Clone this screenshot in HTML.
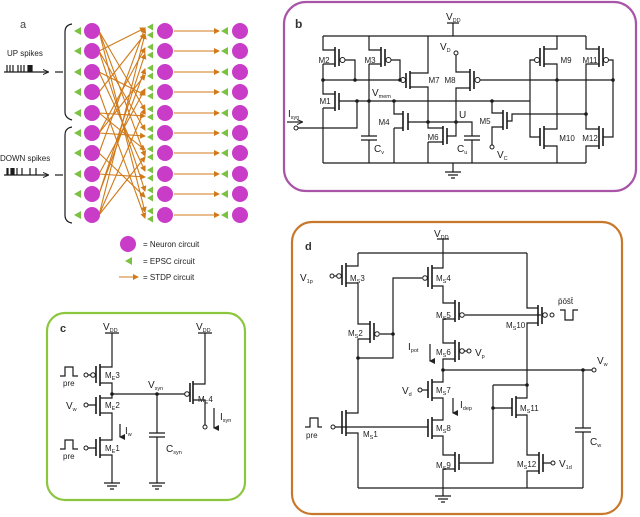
<!DOCTYPE html>
<html><head><meta charset="utf-8"><style>
html,body{margin:0;padding:0;background:#fff;}
svg{display:block;font-family:"Liberation Sans",sans-serif;}
.w{fill:none;stroke:#1a1a1a;stroke-width:1.2;}
.g{fill:none;stroke:#1a1a1a;stroke-width:1.6;}
.t{font-size:8px;fill:#222;}
.s{font-size:5.5px;}
.o{stroke:#d07a1a;stroke-width:1.1;fill:none;}
</style></head><body>
<svg width="640" height="517" viewBox="0 0 640 517" xmlns="http://www.w3.org/2000/svg">
<defs>
<marker id="ah" markerWidth="6" markerHeight="6" refX="5" refY="3" orient="auto" markerUnits="userSpaceOnUse"><path d="M0,0 L6,3 L0,6 z" fill="#d07a1a"/></marker>
<marker id="bh" markerWidth="6" markerHeight="6" refX="5" refY="3" orient="auto" markerUnits="userSpaceOnUse"><path d="M0,0.5 L6,3 L0,5.5" fill="none" stroke="#222" stroke-width="1"/></marker>
<marker id="kh" markerWidth="6" markerHeight="6" refX="3" refY="5" orient="auto" markerUnits="userSpaceOnUse"><path d="M0,0 L3,6 L6,0 z" fill="#222"/></marker>
</defs>

<!-- PANEL A -->
<text x="20" y="28" style="font-size:11px;fill:#444">a</text>
<text x="7" y="56" class="t">UP spikes</text>
<path class="w" d="M4,72 H48" marker-end="url(#bh)"/>
<path class="w" d="M7,65V72M10,65V72M13,65V72M18,65V72M21,65V72M24,65V72M28,65V72M29,65V72M30,65V72M31,65V72M32,65V72"/>
<path class="w" d="M55,72H63"/>
<path class="w" d="M72,24 Q65,25 65,32 V112 Q65,118 72,120"/>
<text x="0" y="161" class="t">DOWN spikes</text>
<path class="w" d="M4,175 H48" marker-end="url(#bh)"/>
<path class="w" d="M7,168V175M8,168V175M11,168V175M12,168V175M13,168V175M14,168V175M17,168V175M22,168V175M30,168V175M36,168V175"/>
<path class="w" d="M55,175H63"/>
<path class="w" d="M72,127 Q65,128 65,135 V215 Q65,222 72,223"/>

<g class="o" marker-end="url(#ah)">
<path d="M99,31L145,110"/><path d="M99,31L145,156"/><path d="M99,31L145,212"/>
<path d="M99,51L145,28"/><path d="M99,51L145,130"/><path d="M99,51L145,191"/>
<path d="M99,72L145,95"/><path d="M99,72L145,171"/>
<path d="M99,92L145,34"/><path d="M99,92L145,218"/>
<path d="M99,113L145,116"/><path d="M99,113L145,150"/>
<path d="M99,133L145,48"/><path d="M99,133L145,136"/><path d="M99,133L145,75"/>
<path d="M99,153L145,28"/><path d="M99,153L145,197"/>
<path d="M99,174L145,89"/><path d="M99,174L145,177"/>
<path d="M99,194L145,54"/><path d="M99,194L145,69"/>
<path d="M99,215L145,34"/><path d="M99,215L145,109"/><path d="M99,215L145,157"/>
<path d="M174,31H219"/><path d="M174,51H219"/><path d="M174,72H219"/><path d="M174,92H219"/><path d="M174,113H219"/><path d="M174,133H219"/><path d="M174,153H219"/><path d="M174,174H219"/><path d="M174,194H219"/><path d="M174,215H219"/>
</g>
<g fill="#c83cc8">
<circle cx="92" cy="31" r="8"/><circle cx="92" cy="51" r="8"/><circle cx="92" cy="72" r="8"/><circle cx="92" cy="92" r="8"/><circle cx="92" cy="113" r="8"/><circle cx="92" cy="133" r="8"/><circle cx="92" cy="153" r="8"/><circle cx="92" cy="174" r="8"/><circle cx="92" cy="194" r="8"/><circle cx="92" cy="215" r="8"/>
<circle cx="165" cy="31" r="8"/><circle cx="165" cy="51" r="8"/><circle cx="165" cy="72" r="8"/><circle cx="165" cy="92" r="8"/><circle cx="165" cy="113" r="8"/><circle cx="165" cy="133" r="8"/><circle cx="165" cy="153" r="8"/><circle cx="165" cy="174" r="8"/><circle cx="165" cy="194" r="8"/><circle cx="165" cy="215" r="8"/>
<circle cx="240" cy="31" r="8"/><circle cx="240" cy="51" r="8"/><circle cx="240" cy="72" r="8"/><circle cx="240" cy="92" r="8"/><circle cx="240" cy="113" r="8"/><circle cx="240" cy="133" r="8"/><circle cx="240" cy="153" r="8"/><circle cx="240" cy="174" r="8"/><circle cx="240" cy="194" r="8"/><circle cx="240" cy="215" r="8"/>
<circle cx="128" cy="244" r="8"/>
</g>
<g fill="#7cc242">
<path d="M74,31l7,-4v8z M74,51l7,-4v8z M74,72l7,-4v8z M74,92l7,-4v8z M74,113l7,-4v8z M74,133l7,-4v8z M74,153l7,-4v8z M74,174l7,-4v8z M74,194l7,-4v8z M74,215l7,-4v8z"/>
<path d="M221,31l7,-4v8z M221,51l7,-4v8z M221,72l7,-4v8z M221,92l7,-4v8z M221,113l7,-4v8z M221,133l7,-4v8z M221,153l7,-4v8z M221,174l7,-4v8z M221,194l7,-4v8z M221,215l7,-4v8z"/>
<path d="M147,27l6,-3.5v7z M147,35l6,-3.5v7z M147,47l6,-3.5v7z M147,55l6,-3.5v7z M147,68l6,-3.5v7z M147,76l6,-3.5v7z M147,88l6,-3.5v7z M147,96l6,-3.5v7z M147,109l6,-3.5v7z M147,117l6,-3.5v7z M147,129l6,-3.5v7z M147,137l6,-3.5v7z M147,149l6,-3.5v7z M147,157l6,-3.5v7z M147,170l6,-3.5v7z M147,178l6,-3.5v7z M147,190l6,-3.5v7z M147,198l6,-3.5v7z M147,211l6,-3.5v7z M147,219l6,-3.5v7z"/>
<path d="M125,261l7,-4v8z"/>
</g>
<path class="o" marker-end="url(#ah)" d="M119,277H138"/>
<text x="143" y="247" class="t">=  Neuron circuit</text>
<text x="143" y="264" class="t">=  EPSC circuit</text>
<text x="143" y="280" class="t">=  STDP circuit</text>

<!-- PANEL B -->
<rect x="284" y="2" width="352" height="189" rx="22" fill="none" stroke="#a855a8" stroke-width="2.2"/>
<text x="295" y="28" style="font-size:12px;font-weight:bold;fill:#333">b</text>
<text x="446" y="20" class="t" style="font-size:10px">V<tspan class="s" dy="2">DD</tspan></text>
<path class="w" d="M447,23H459M453,23V36M323,36H586M323,163H586M453,163V172"/>
<path class="w" d="M445,172H461M448,175H458M451,178H455"/>
<path class="w" d="M323,36V50H335M323,64H335M323,64V94H335M323,108H335M323,108V163"/>
<path class="g" d="M335,47V67M339,49V66M335,91V111M339,93V110"/>
<circle cx="342.5" cy="60" r="2.5" fill="#fff" stroke="#1a1a1a"/>
<path class="w" d="M345,60H355V80M323,80H401M339,101H530"/>
<path class="w" d="M369,36V50H381M369,64H381M369,64V136M369,140V163M361,136H377M361,140H377"/>
<path class="g" d="M381,47V67M385,49V66"/>
<circle cx="388.5" cy="60" r="2.5" fill="#fff" stroke="#1a1a1a"/>
<path class="w" d="M391,60H400V80"/>
<text x="288" y="117" class="t" style="font-size:10px">I<tspan class="s" dy="2">syn</tspan></text>
<path class="w" d="M287,122H302" marker-end="url(#bh)"/>
<circle cx="296" cy="128" r="2" fill="#fff" stroke="#1a1a1a"/>
<path class="w" d="M298,128H357V101"/>
<text x="372" y="96" class="t" style="font-size:10px">V<tspan class="s" dy="2">mem</tspan></text>
<text x="374" y="152" class="t" style="font-size:10px">C<tspan class="s" dy="2">v</tspan></text>
<path class="w" d="M394,101V114H403M394,128H403M394,128V163M408,122H456"/>
<path class="g" d="M403,111V131M408,113V130"/>
<path class="w" d="M428,36V73H410M410,87H428V128H443M428,142H443M428,142V163"/>
<path class="g" d="M410,71V89M406,73V88M443,126V145M447,128V144"/>
<circle cx="403" cy="80" r="2.5" fill="#fff" stroke="#1a1a1a"/>
<text x="440" y="50" class="t" style="font-size:10px">V<tspan class="s" dy="2">D</tspan></text>
<circle cx="456" cy="53" r="2" fill="#fff" stroke="#1a1a1a"/>
<path class="w" d="M456,55V72H470M470,88H456V136H447"/>
<path class="g" d="M470,69V91M474,71V89"/>
<circle cx="477.5" cy="80" r="2.5" fill="#fff" stroke="#1a1a1a"/>
<path class="w" d="M480,80H613V137H603"/>
<text x="459" y="118" class="t" style="font-size:10px">U</text>
<path class="w" d="M456,122H472V136M472,140V163M464,136H480M464,140H480"/>
<text x="457" y="152" class="t" style="font-size:10px">C<tspan class="s" dy="2">u</tspan></text>
<path class="w" d="M492,101V113H503M503,127H492V145M507,121H512V114H586"/>
<path class="g" d="M503,110V130M507,112V129"/>
<circle cx="492" cy="147" r="2" fill="#fff" stroke="#1a1a1a"/>
<text x="497" y="158" class="t" style="font-size:10px">V<tspan class="s" dy="2">C</tspan></text>
<path class="w" d="M557,36V49H544M544,64H557V129H544M544,146H557V163M534,60H530V137H540"/>
<path class="g" d="M544,46V67M540,48V66M544,126V149M540,128V146"/>
<circle cx="537" cy="60" r="2.5" fill="#fff" stroke="#1a1a1a"/>
<path class="w" d="M586,36V49H599M599,64H586V129H599M599,146H586V163M609,60H613V80"/>
<path class="g" d="M599,46V67M603,48V66M599,126V149M603,128V146"/>
<circle cx="606" cy="60" r="2.5" fill="#fff" stroke="#1a1a1a"/>
<g fill="#1a1a1a">
<circle cx="323" cy="80" r="1.8"/><circle cx="355" cy="80" r="1.8"/><circle cx="400" cy="80" r="1.8"/>
<circle cx="357" cy="101" r="1.8"/><circle cx="369" cy="101" r="1.8"/><circle cx="394" cy="101" r="1.8"/><circle cx="492" cy="101" r="1.8"/>
<circle cx="428" cy="122" r="1.8"/><circle cx="456" cy="122" r="1.8"/><circle cx="557" cy="80" r="1.8"/><circle cx="613" cy="80" r="1.8"/><circle cx="586" cy="114" r="1.8"/>
</g>
<g class="t" text-anchor="middle">
<text x="324" y="63">M2</text><text x="370" y="63">M3</text><text x="325" y="104">M1</text>
<text x="434" y="83">M7</text><text x="450" y="83">M8</text><text x="384" y="125">M4</text>
<text x="433" y="140">M6</text><text x="485" y="124">M5</text>
<text x="566" y="63">M9</text><text x="567" y="141">M10</text><text x="590" y="63">M11</text><text x="590" y="141">M12</text>
</g>

<!-- PANEL C -->
<rect x="47" y="313" width="198" height="187" rx="18" fill="none" stroke="#8cc63f" stroke-width="2.2"/>
<text x="60" y="332" style="font-size:11px;font-weight:bold;fill:#333">c</text>
<text x="103" y="330" class="t" style="font-size:10px">V<tspan class="s" dy="2">DD</tspan></text>
<text x="196" y="330" class="t" style="font-size:10px">V<tspan class="s" dy="2">DD</tspan></text>
<path class="w" d="M105,333H119M112,333V367H100M100,383H112V398H100M100,413H112V440H100M100,455H112V483"/>
<path class="g" d="M100,364V386M96,366V383M100,395V416M96,397V414M100,437V458M96,439V456"/>
<circle cx="93" cy="375" r="2.3" fill="#fff" stroke="#1a1a1a"/>
<circle cx="86" cy="375" r="2" fill="#fff" stroke="#1a1a1a"/>
<path class="w" d="M88,375H90.5M88,405H96M88,448H96"/>
<circle cx="86" cy="405" r="2" fill="#fff" stroke="#1a1a1a"/>
<circle cx="86" cy="448" r="2" fill="#fff" stroke="#1a1a1a"/>
<path class="w" d="M60,376H65V367H73V376H78M60,449H65V440H73V449H78"/>
<text x="63" y="386" class="t">pre</text><text x="63" y="459" class="t">pre</text>
<text x="66" y="409" class="t" style="font-size:10px">V<tspan class="s" dy="2">w</tspan></text>
<path class="w" d="M104,483H120M107,486H117M110,489H114"/>
<text x="105" y="378" class="t">M<tspan class="s" dy="2">E</tspan><tspan dy="-2">3</tspan></text>
<text x="105" y="408" class="t">M<tspan class="s" dy="2">E</tspan><tspan dy="-2">2</tspan></text>
<text x="105" y="451" class="t">M<tspan class="s" dy="2">E</tspan><tspan dy="-2">1</tspan></text>
<path class="w" d="M120,424V437" marker-end="url(#kh)"/>
<text x="125" y="434" class="t" style="font-size:10px">I<tspan class="s" dy="2">w</tspan></text>
<path class="w" d="M112,394H185M157,394V433M157,437V483M149,433H165M149,437H165M149,483H165M152,486H162M155,489H159"/>
<text x="148" y="388" class="t" style="font-size:10px">V<tspan class="s" dy="2">syn</tspan></text>
<text x="166" y="452" class="t" style="font-size:10px">C<tspan class="s" dy="2">syn</tspan></text>
<path class="w" d="M198,333H212M205,333V384H193M193,400H205V425"/>
<path class="g" d="M193,381V404M190,383V402"/>
<circle cx="187" cy="394" r="2.3" fill="#fff" stroke="#1a1a1a"/>
<circle cx="205" cy="427" r="2" fill="#fff" stroke="#1a1a1a"/>
<text x="198" y="402" class="t">M<tspan class="s" dy="2">E</tspan><tspan dy="-2">4</tspan></text>
<path class="w" d="M214,408V428" marker-end="url(#kh)"/>
<text x="220" y="420" class="t" style="font-size:10px">I<tspan class="s" dy="2">syn</tspan></text>
<g fill="#1a1a1a"><circle cx="112" cy="394" r="1.8"/><circle cx="157" cy="394" r="1.8"/></g>

<!-- PANEL D -->
<rect x="292" y="222" width="330" height="292" rx="20" fill="none" stroke="#c8782a" stroke-width="2.2"/>
<text x="305" y="250" style="font-size:11px;font-weight:bold;fill:#333">d</text>
<text x="434" y="237" class="t" style="font-size:10px">V<tspan class="s" dy="2">DD</tspan></text>
<path class="w" d="M437,239H449M443,239V253M358,253H527"/>
<path class="w" d="M358,253V266H346M346,283H358V324H370M370,339H358V413H346M346,433H358V488"/>
<path class="g" d="M346,263V287M342,265V285M370,321V343M374,323V340M346,410V436M342,411V434"/>
<circle cx="339" cy="276" r="2.3" fill="#fff" stroke="#1a1a1a"/>
<circle cx="332" cy="276" r="2" fill="#fff" stroke="#1a1a1a"/>
<path class="w" d="M334,276H336.5"/>
<text x="300" y="281" class="t" style="font-size:10px">V<tspan class="s" dy="2">1p</tspan></text>
<circle cx="377" cy="334" r="2.3" fill="#fff" stroke="#1a1a1a"/>
<path class="w" d="M380,334H393M358,358H393V278H422"/>
<circle cx="425" cy="278" r="2.3" fill="#fff" stroke="#1a1a1a"/>
<path class="w" d="M443,253V268H432M432,286H443V303H455M455,319H443V343H455M455,359H443V382H432M432,398H443V420H432M432,436H443V455H455M455,469H443V488"/>
<path class="g" d="M432,265V289M428,267V287M455,300V322M459,302V320M455,340V362M459,342V360M432,379V401M428,381V398M432,417V439M428,419V437M455,452V472M459,454V470"/>
<circle cx="462" cy="315" r="2.3" fill="#fff" stroke="#1a1a1a"/>
<path class="w" d="M465,315H541"/>
<circle cx="462" cy="351" r="2.3" fill="#fff" stroke="#1a1a1a"/>
<circle cx="469" cy="351" r="2" fill="#fff" stroke="#1a1a1a"/>
<path class="w" d="M464.5,351H467"/>
<text x="475" y="356" class="t" style="font-size:10px">V<tspan class="s" dy="2">p</tspan></text>
<path class="w" d="M430,344V361" marker-end="url(#kh)"/>
<text x="408" y="350" class="t" style="font-size:10px">I<tspan class="s" dy="2">pot</tspan></text>
<circle cx="420" cy="390" r="2" fill="#fff" stroke="#1a1a1a"/>
<path class="w" d="M422,390H428"/>
<text x="402" y="394" class="t" style="font-size:10px">V<tspan class="s" dy="2">d</tspan></text>
<path class="w" d="M453,398V413" marker-end="url(#kh)"/>
<text x="460" y="408" class="t" style="font-size:10px">I<tspan class="s" dy="2">dep</tspan></text>
<circle cx="333" cy="427" r="2" fill="#fff" stroke="#1a1a1a"/>
<path class="w" d="M335,427H428M305,427H310V418H318V427H322"/>
<text x="306" y="438" class="t">pre</text>
<path class="w" d="M527,253V308H538M538,323H527V398H516M516,415H527V455H539M539,471H527V488"/>
<path class="g" d="M538,305V326M542,307V324M516,396V418M512,398V416M539,452V474M543,454V472"/>
<circle cx="545" cy="315" r="2.3" fill="#fff" stroke="#1a1a1a"/>
<circle cx="552" cy="315" r="2" fill="#fff" stroke="#1a1a1a"/>
<path class="w" d="M560,310H565V320H573V310H578"/>
<text x="558" y="304" class="t">p̄ōs̄t̄</text>
<path class="w" d="M512,408H493M493,385V463H459M493,385H527M543,463H551"/>
<circle cx="553" cy="463" r="2" fill="#fff" stroke="#1a1a1a"/>
<text x="559" y="467" class="t" style="font-size:10px">V<tspan class="s" dy="2">1d</tspan></text>
<path class="w" d="M443,370H592M583,370V428M583,432V488M575,428H591M575,432H591M358,488H583M443,488V496M435,496H451M438,499H448M441,502H445"/>
<circle cx="594" cy="370" r="2" fill="#fff" stroke="#1a1a1a"/>
<text x="597" y="364" class="t" style="font-size:10px">V<tspan class="s" dy="2">w</tspan></text>
<text x="590" y="445" class="t" style="font-size:10px">C<tspan class="s" dy="2">w</tspan></text>
<g fill="#1a1a1a"><circle cx="393" cy="334" r="1.8"/><circle cx="358" cy="358" r="1.8"/><circle cx="443" cy="370" r="1.8"/><circle cx="583" cy="370" r="1.8"/><circle cx="527" cy="385" r="1.8"/><circle cx="493" cy="408" r="1.8"/></g>
<g class="t">
<text x="350" y="281">M<tspan class="s" dy="2">S</tspan><tspan dy="-2">3</tspan></text>
<text x="348" y="336">M<tspan class="s" dy="2">S</tspan><tspan dy="-2">2</tspan></text>
<text x="363" y="437">M<tspan class="s" dy="2">S</tspan><tspan dy="-2">1</tspan></text>
<text x="436" y="281">M<tspan class="s" dy="2">S</tspan><tspan dy="-2">4</tspan></text>
<text x="436" y="318">M<tspan class="s" dy="2">S</tspan><tspan dy="-2">5</tspan></text>
<text x="436" y="355">M<tspan class="s" dy="2">S</tspan><tspan dy="-2">6</tspan></text>
<text x="436" y="393">M<tspan class="s" dy="2">S</tspan><tspan dy="-2">7</tspan></text>
<text x="436" y="431">M<tspan class="s" dy="2">S</tspan><tspan dy="-2">8</tspan></text>
<text x="436" y="468">M<tspan class="s" dy="2">S</tspan><tspan dy="-2">9</tspan></text>
<text x="506" y="328">M<tspan class="s" dy="2">S</tspan><tspan dy="-2">10</tspan></text>
<text x="520" y="411">M<tspan class="s" dy="2">S</tspan><tspan dy="-2">11</tspan></text>
<text x="517" y="467">M<tspan class="s" dy="2">S</tspan><tspan dy="-2">12</tspan></text>
</g>
</svg>
</body></html>
